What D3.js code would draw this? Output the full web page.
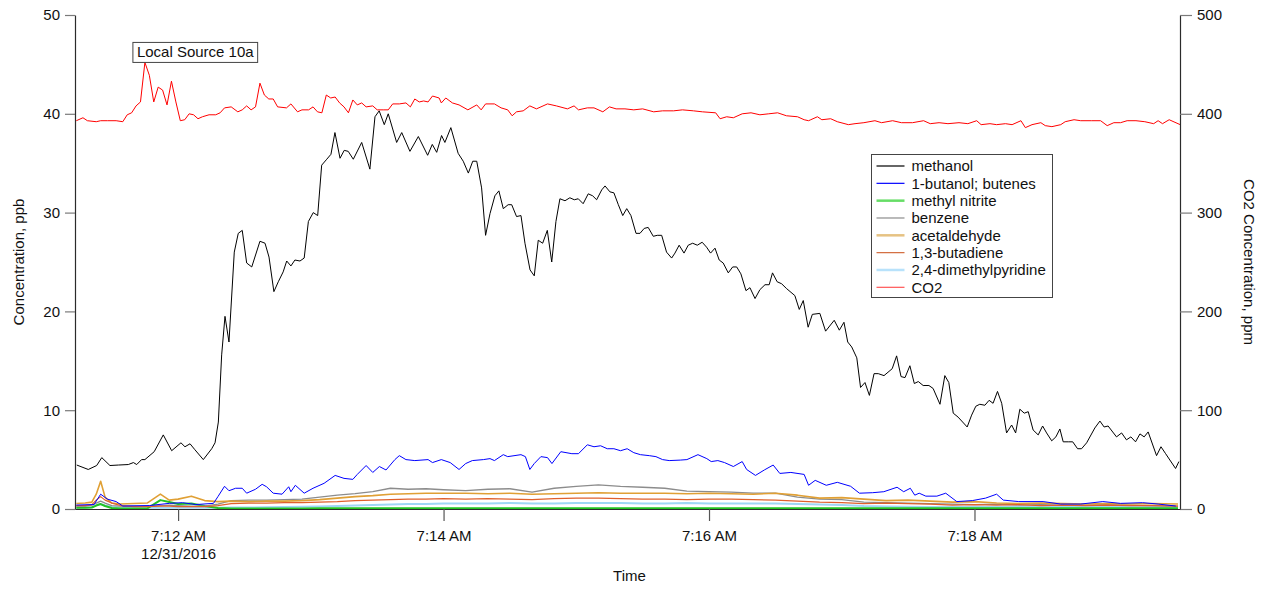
<!DOCTYPE html>
<html>
<head>
<meta charset="utf-8">
<script src="https://cdn.jsdelivr.net/npm/d3@7"></script>
<style>
  body { margin: 0; background: #fff; }
  svg { display: block; font-family: "Liberation Sans", Arial, sans-serif; }
</style>
</head>
<body>
<svg id="chart" width="1265" height="589"></svg>
<script>
// Time stamps are seconds after 7:11:00 AM on 12/31/2016.

// methanol, ppb  [seconds, value]
const methanol = [[14.2,4.45],[19.4,4.0],[23.2,4.4],[25.5,5.2],[29.2,4.4],[33.0,4.45],[37.5,4.5],[39.8,4.7],[41.3,4.5],[43.5,5.0],[45.0,5.0],[49.2,5.8],[53.3,7.5],[57.1,5.9],[61.3,6.7],[63.1,6.3],[65.4,6.6],[67.6,6.0],[71.4,5.0],[75.2,6.1],[76.7,6.7],[78.2,8.8],[79.7,15.6],[81.2,19.5],[83.0,16.9],[85.4,26.0],[87.2,27.9],[89.0,28.2],[91.0,24.9],[93.3,24.5],[97.0,27.1],[99.3,26.9],[101.1,25.5],[103.3,22.0],[105.3,23.0],[107.5,24.0],[109.1,25.1],[111.0,24.6],[112.8,25.2],[115.1,25.1],[117.0,25.4],[118.9,29.1],[121.1,30.0],[123.1,29.7],[124.9,34.8],[127.2,35.4],[129.1,35.9],[130.9,38.1],[133.2,35.5],[135.1,36.3],[136.9,36.2],[139.2,35.4],[143.0,37.1],[146.7,34.4],[149.0,39.7],[150.9,40.3],[153.2,38.9],[155.0,40.0],[158.8,37.1],[161.1,38.1],[164.8,36.2],[168.6,37.7],[172.8,35.8],[174.9,36.9],[176.9,36.1],[179.1,37.8],[180.6,37.1],[183.3,38.6],[186.6,36.0],[188.9,35.2],[191.2,34.0],[193.2,35.2],[195.0,35.2],[197.2,32.5],[199.0,27.7],[201.0,29.9],[203.2,31.7],[205.0,32.2],[207.0,30.4],[209.2,30.8],[210.8,30.8],[213.0,29.6],[215.0,29.7],[216.8,26.9],[219.1,24.2],[221.0,23.6],[222.8,27.2],[224.8,26.9],[226.9,28.2],[228.9,25.0],[230.8,29.1],[232.6,31.4],[234.9,31.2],[237.1,31.5],[239.1,31.3],[240.9,31.4],[243.1,30.9],[245.4,31.9],[247.4,31.7],[249.2,31.3],[251.5,32.3],[253.0,32.7],[255.2,32.1],[257.0,32.0],[259.0,30.8],[261.0,29.7],[262.8,30.4],[264.7,29.7],[267.0,27.9],[268.8,27.9],[270.7,28.4],[272.5,28.5],[274.8,27.6],[276.6,27.7],[278.6,27.7],[280.8,26.0],[283.1,25.4],[284.6,25.9],[286.5,26.7],[288.7,25.9],[290.6,26.7],[292.6,26.9],[294.7,26.7],[296.9,27.0],[298.9,26.5],[300.7,25.9],[302.7,26.4],[304.6,25.2],[306.4,24.9],[308.7,23.9],[310.7,24.5],[312.5,24.5],[314.4,23.8],[316.7,22.1],[318.5,22.4],[320.8,21.3],[323.0,22.2],[325.3,22.7],[327.2,22.7],[328.7,23.9],[330.8,23.0],[332.8,22.8],[335.1,22.3],[338.8,21.6],[340.8,20.2],[342.6,21.1],[344.8,18.4],[346.7,19.7],[350.1,19.8],[352.7,18.0],[356.6,19.1],[358.9,18.1],[361.0,18.9],[362.7,16.9],[364.5,16.4],[366.8,15.3],[368.5,12.3],[370.5,12.8],[372.5,11.5],[374.6,13.7],[376.5,13.7],[379.1,13.5],[382.8,14.2],[384.8,15.5],[386.8,13.4],[388.6,13.3],[390.8,14.5],[392.8,12.7],[394.6,12.9],[396.8,12.5],[399.4,12.5],[401.3,12.2],[404.4,10.6],[406.6,13.5],[408.4,12.8],[410.4,9.7],[412.6,9.3],[416.7,8.3],[418.7,9.5],[420.6,10.4],[422.4,10.6],[424.7,10.5],[426.6,11.0],[428.4,10.7],[430.4,11.9],[432.3,10.7],[434.5,7.7],[436.8,8.5],[438.6,7.7],[440.5,10.1],[442.5,9.7],[444.3,9.85],[446.5,8.0],[448.8,7.5],[450.8,8.4],[452.6,7.7],[454.9,6.9],[456.8,7.3],[458.6,8.1],[460.1,6.8],[462.4,6.8],[464.4,6.8],[466.6,6.1],[468.4,6.1],[470.7,6.7],[474.4,8.2],[476.7,8.9],[478.6,8.3],[480.4,8.4],[484.2,7.3],[486.5,7.7],[488.7,7.0],[490.7,7.3],[492.8,6.8],[494.8,7.6],[496.7,7.3],[498.5,7.8],[502.3,5.4],[504.3,6.3],[506.4,5.6],[510.9,4.1],[512.4,4.8]];

// 1-butanol; butenes, ppb  [seconds, value]
const butenes = [[14,0.4],[22,0.45],[25,1.5],[28,1.0],[32,0.75],[35,0.3],[47,0.35],[56,0.57],[62,0.64],[68,0.45],[76,0.57],[78,1.25],[81,2.3],[83,1.85],[86,2.1],[89,2.1],[91,1.6],[95,2.0],[98,2.5],[100,2.25],[103,1.6],[107,1.5],[110,2.25],[111,1.75],[113,2.4],[117,1.6],[121,2.1],[126,2.6],[131,3.4],[135,3.1],[139,3.0],[141,3.5],[145,4.4],[148,3.7],[151,4.3],[154,3.95],[158,5.0],[160,5.4],[163,5.0],[167,4.9],[173,5.0],[175,4.7],[179,5.0],[183,4.7],[187,4.0],[190,4.6],[193,4.9],[198,5.0],[201,5.1],[203,4.9],[207,5.5],[209,5.3],[215,5.5],[217,5.3],[219,4.0],[221,4.6],[224,5.3],[227,5.2],[229,4.6],[233,5.8],[238,5.6],[241,5.6],[245,6.5],[248,6.3],[251,6.4],[254,6.1],[257,6.1],[260,5.9],[263,6.1],[266,5.7],[269,5.5],[273,5.4],[276,5.3],[279,5.0],[282,4.9],[287,4.95],[290,5.0],[295,5.5],[299,5.1],[301,4.8],[304,4.9],[307,4.7],[311,4.3],[315,4.8],[317,4.0],[321,3.4],[325,3.95],[329,4.45],[332,3.6],[337,3.7],[343,3.5],[345,2.4],[348,2.9],[353,2.4],[358,2.7],[364,2.3],[368,1.6],[374,1.65],[379,1.75],[385,2.2],[388,1.75],[391,2.1],[393,1.4],[395,1.6],[398,1.3],[403,1.3],[407,1.6],[412,0.75],[419,0.85],[425,1.1],[430,1.5],[433,0.9],[440,0.75],[451,0.75],[459,0.5],[468,0.5],[478,0.75],[486,0.57],[496,0.64],[503,0.5],[511,0.3]];

// CO2, ppm  [seconds, value]
const co2 = [[14,393],[17,396],[19,393],[23,392],[25,393],[28,393],[32,393],[35,392],[37,399],[39,401],[41,408],[43,412],[45,452],[47,439],[49,412],[51,427],[53,424],[55,409],[57,433],[59,412],[61,393],[63,394],[65,400],[67,399],[69,395],[71,397],[74,399],[77,399],[79,401],[81,406],[84,407],[87,402],[89,404],[91,408],[93,404],[95,407],[97,431],[99,419],[101,415],[103,415],[105,407],[109,406],[111,410],[114,402],[116,404],[119,404],[121,407],[123,402],[125,401],[127,419],[129,416],[131,417],[133,411],[135,407],[137,401],[139,414],[141,409],[143,411],[145,407],[148,408],[150,404],[153,404],[155,404],[157,410],[160,410],[163,411],[165,407],[167,415],[169,412],[171,413],[173,412],[175,418],[178,416],[179,411],[181,416],[184,411],[187,409],[191,404],[195,409],[197,404],[199,410],[203,410],[206,406],[209,404],[211,398],[213,402],[216,403],[219,408],[222,405],[227,410],[231,408],[236,405],[239,408],[241,404],[245,406],[248,406],[252,402],[255,407],[258,405],[262,405],[266,404],[270,405],[275,402],[279,403],[284,403],[288,404],[293,403],[297,402],[303,401],[305,395],[308,397],[311,396],[315,400],[319,401],[323,399],[327,400],[331,401],[335,398],[340,397],[343,394],[345,393],[346,394],[349,397],[351,394],[355,395],[358,392],[363,389],[366,390],[370,391],[375,393],[378,391],[383,393],[387,391],[392,391],[397,393],[400,390],[404,391],[408,390],[413,391],[417,390],[421,393],[423,389],[427,390],[430,389],[434,390],[437,389],[441,393],[443,386],[446,389],[450,391],[452,388],[455,387],[459,389],[461,392],[465,394],[468,393],[473,393],[477,393],[480,388],[483,391],[486,391],[489,393],[493,393],[497,392],[501,390],[503,393],[505,390],[508,394],[513,389]];

// Shared time base for the low-level species (seconds)
const minorSec = [14,18,21,23,25,27,30,34,40,46,52,56,60,66,72,78,84,92,100,108,116,124,132,140,148,156,164,172,180,190,200,210,220,230,240,250,260,270,280,290,300,310,320,330,340,350,360,370,380,390,400,410,420,430,440,450,460,470,480,490,500,512];

const methylNitrite = [0.12,0.12,0.15,0.35,0.5,0.3,0.1,0.05,0.05,0.05, 0.9,0.7,0.5,0.55,0.3,0.1,0.05,0.05,0.05,0.06, 0.06,0.07,0.07,0.08,0.08,0.08,0.08,0.08,0.08,0.08, 0.08,0.08,0.08,0.08,0.08,0.08,0.08,0.08,0.08,0.08, 0.08,0.08,0.08,0.08,0.08,0.08,0.08,0.08,0.08,0.08, 0.08,0.08,0.08,0.08,0.08,0.08,0.08,0.08,0.08,0.08, 0.08,0.08];
const benzene = [0.3,0.3,0.4,0.6,0.8,0.6,0.35,0.3,0.3,0.3, 0.35,0.4,0.35,0.3,0.3,0.5,0.85,0.9,0.9,0.95, 1.0,1.2,1.4,1.55,1.75,2.1,2.0,2.05,1.95,1.85, 2.0,2.05,1.7,2.1,2.3,2.45,2.3,2.2,2.1,1.8, 1.75,1.7,1.6,1.6,1.2,1.0,0.95,0.7,0.65,0.6, 0.55,0.5,0.45,0.5,0.4,0.45,0.4,0.4,0.45,0.4, 0.35,0.3];
const acetaldehyde = [0.55,0.6,0.7,1.5,2.8,1.2,0.6,0.5,0.55,0.6, 1.5,0.9,1.0,1.3,0.85,0.75,0.8,0.75,0.8,0.8, 0.85,0.95,1.1,1.25,1.35,1.5,1.55,1.6,1.6,1.6, 1.55,1.6,1.5,1.55,1.6,1.65,1.6,1.6,1.6,1.55, 1.6,1.55,1.5,1.6,1.4,1.1,1.15,1.0,0.85,0.9, 0.8,0.7,0.75,0.6,0.55,0.6,0.55,0.5,0.55,0.5, 0.55,0.5];
const butadiene = [0.35,0.35,0.45,0.9,1.25,0.9,0.6,0.35,0.25,0.25, 0.3,0.3,0.25,0.25,0.25,0.35,0.55,0.6,0.6,0.65, 0.65,0.7,0.75,0.85,0.9,0.95,1.0,1.0,1.05,1.0, 1.05,1.0,0.95,1.05,1.1,1.1,1.05,1.0,1.0,0.95, 1.0,1.0,0.95,0.9,0.8,0.7,0.65,0.55,0.6,0.55, 0.5,0.4,0.45,0.4,0.45,0.35,0.4,0.35,0.4,0.35, 0.35,0.3];
const dimethylpyridine = [0.15,0.15,0.2,0.4,0.5,0.35,0.2,0.15,0.12,0.12, 0.12,0.12,0.12,0.12,0.12,0.12,0.15,0.15,0.18,0.2, 0.22,0.25,0.3,0.35,0.4,0.45,0.5,0.5,0.55,0.55, 0.55,0.6,0.55,0.55,0.6,0.6,0.6,0.55,0.55,0.6, 0.55,0.55,0.55,0.55,0.5,0.45,0.4,0.3,0.25,0.22, 0.2,0.2,0.2,0.2,0.2,0.2,0.2,0.2,0.2,0.2, 0.2,0.2];

const ppbTicks = [0, 10, 20, 30, 40, 50];
const ppmTicks = [0, 100, 200, 300, 400, 500];
const dateLabel = "12/31/2016";
const annotationText = "Local Source 10a";

// ---------------------------------------------------------------
const svg = d3.select("#chart");
const base = new Date(2016, 11, 31, 7, 11, 0);
const at = s => new Date(base.getTime() + s * 1000);

const plot = { left: 75, right: 1180, top: 15, bottom: 509 };
const x = d3.scaleTime().domain([at(13.4), at(512.9)]).range([plot.left, plot.right]);
const yL = d3.scaleLinear().domain([0, 50]).range([plot.bottom, plot.top]);
const yR = d3.scaleLinear().domain([0, 500]).range([plot.bottom, plot.top]);

svg.append("rect").attr("width", 1265).attr("height", 589).attr("fill", "#fff");

svg.append("defs").append("clipPath").attr("id", "plotClip")
  .append("rect")
  .attr("x", plot.left).attr("y", plot.top - 2)
  .attr("width", plot.right - plot.left).attr("height", plot.bottom - plot.top + 2);

const series = [
  { name: "methanol",              data: methanol, axis: yL, color: "#000000", width: 1,   legendWidth: 1.2 },
  { name: "1-butanol; butenes",     data: butenes,  axis: yL, color: "#0000ff", width: 1,   legendWidth: 1.2 },
  { name: "methyl nitrite",         data: minorSec.map((s, i) => [s, methylNitrite[i]]), axis: yL, color: "#22c322", width: 2, legendWidth: 2.5, legendColor: "#66dd66" },
  { name: "benzene",                data: minorSec.map((s, i) => [s, benzene[i]]), axis: yL, color: "#8c8c8c", width: 1.3, legendWidth: 1.2 },
  { name: "acetaldehyde",           data: minorSec.map((s, i) => [s, acetaldehyde[i]]), axis: yL, color: "#e0a035", width: 1.6, legendWidth: 2.5, legendColor: "#e6c283" },
  { name: "1,3-butadiene",          data: minorSec.map((s, i) => [s, butadiene[i]]), axis: yL, color: "#e0602c", width: 1.2, legendWidth: 1.2, legendColor: "#d2693a" },
  { name: "2,4-dimethylpyridine",   data: minorSec.map((s, i) => [s, dimethylpyridine[i]]), axis: yL, color: "#9fd6f5", width: 2, legendWidth: 2.5, legendColor: "#b8e2fb" },
  { name: "CO2",                    data: co2, axis: yR, color: "#ff0000", width: 1,  legendWidth: 1.2, legendColor: "#ff5555" }
];

const lines = svg.append("g").attr("clip-path", "url(#plotClip)");
// low-level species first, then the main traces on top
const drawOrder = [6, 2, 3, 4, 5, 1, 0, 7];
drawOrder.forEach(i => {
  const s = series[i];
  const gen = d3.line().x(d => x(at(d[0]))).y(d => s.axis(d[1]));
  lines.append("path")
    .datum(s.data)
    .attr("fill", "none")
    .attr("stroke", s.color)
    .attr("stroke-width", s.width)
    .attr("stroke-linejoin", "round")
    .attr("d", gen);
});

// ---- axes ----
const axisColor = "#2b2b2b";
const tickColor = "#7a7a7a";
const fontSize = 15;

const leftAxis = svg.append("g").attr("transform", `translate(${plot.left},0)`)
  .call(d3.axisLeft(yL).tickValues(ppbTicks).tickSize(10).tickPadding(5).tickSizeOuter(0));
const rightAxis = svg.append("g").attr("transform", `translate(${plot.right},0)`)
  .call(d3.axisRight(yR).tickValues(ppmTicks).tickSize(12).tickPadding(5).tickSizeOuter(0));
const timeTicks = d3.timeMinute.every(2).range(x.domain()[0], x.domain()[1]);
const bottomAxis = svg.append("g").attr("transform", `translate(0,${plot.bottom})`)
  .call(d3.axisBottom(x).tickValues(timeTicks).tickSize(12).tickSizeOuter(0)
    .tickFormat(d3.timeFormat("%-I:%M %p")));

[leftAxis, rightAxis, bottomAxis].forEach(g => {
  g.select(".domain").attr("stroke", axisColor).attr("stroke-width", 1.2);
  g.selectAll(".tick line").attr("stroke", tickColor).attr("stroke-width", 1.2);
  g.selectAll("text").attr("font-size", fontSize).attr("fill", "#111")
    .attr("font-family", "'Liberation Sans', Arial, sans-serif");
});
bottomAxis.selectAll(".tick line").attr("stroke", "#555");
bottomAxis.selectAll(".tick text").attr("y", 32).attr("dy", 0);
bottomAxis.selectAll(".tick").filter((d, i) => i === 0)
  .append("text")
  .attr("y", 50).attr("fill", "#111").attr("text-anchor", "middle")
  .attr("font-size", fontSize)
  .text(dateLabel);

// axis titles
svg.append("text")
  .attr("transform", `translate(24,${(plot.top + plot.bottom) / 2}) rotate(-90)`)
  .attr("text-anchor", "middle").attr("font-size", fontSize).attr("fill", "#111")
  .text("Concentration, ppb");
svg.append("text")
  .attr("transform", `translate(1244,${(plot.top + plot.bottom) / 2}) rotate(90)`)
  .attr("text-anchor", "middle").attr("font-size", fontSize).attr("fill", "#111")
  .text("CO2 Concentration, ppm");
svg.append("text")
  .attr("x", (plot.left + plot.right) / 2 + 2).attr("y", 581)
  .attr("text-anchor", "middle").attr("font-size", fontSize).attr("fill", "#111")
  .text("Time");

// ---- annotation on the CO2 peak ----
const peak = co2.reduce((a, b) => (b[1] > a[1] ? b : a));
const px = x(at(peak[0])), py = yR(peak[1]);
const ann = svg.append("g");
const annText = ann.append("text")
  .attr("font-size", fontSize).attr("fill", "#111")
  .text(annotationText);
const tw = annText.node().getComputedTextLength();
const boxW = tw + 8, boxH = 20;
const boxX = px - 12, boxY = py - boxH;
ann.insert("rect", "text")
  .attr("x", boxX).attr("y", boxY).attr("width", boxW).attr("height", boxH)
  .attr("fill", "#fff").attr("stroke", "#444").attr("stroke-width", 1);
annText.attr("x", boxX + 4).attr("y", boxY + 15);

// ---- legend ----
const legend = svg.append("g").attr("transform", "translate(871.5,154.5)");
const rowH = 17.33;
legend.append("rect")
  .attr("width", 181).attr("height", 143)
  .attr("fill", "#fff").attr("stroke", "#444").attr("stroke-width", 1);
series.forEach((s, i) => {
  const cy = 11.5 + i * rowH;
  legend.append("line")
    .attr("x1", 5).attr("x2", 33).attr("y1", cy).attr("y2", cy)
    .attr("stroke", s.legendColor || s.color).attr("stroke-width", s.legendWidth);
  legend.append("text")
    .attr("x", 40).attr("y", cy + 5.3)
    .attr("font-size", fontSize).attr("fill", "#111")
    .text(s.name);
});
</script>
</body>
</html>
